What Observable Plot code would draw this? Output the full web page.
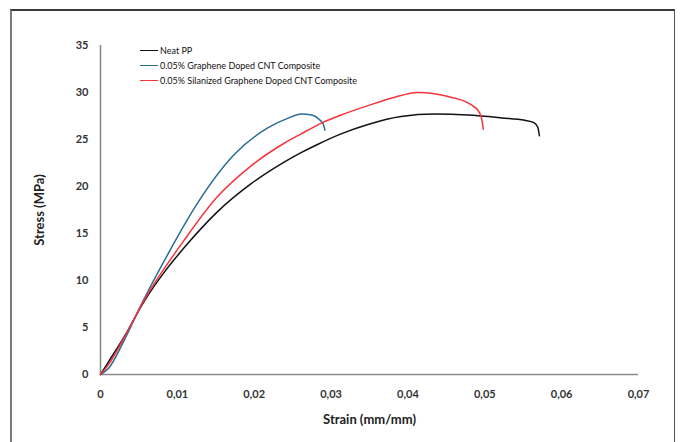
<!DOCTYPE html>
<html>
<head>
<meta charset="utf-8">
<script src="https://cdn.jsdelivr.net/npm/d3@7"></script>
<script src="https://cdn.jsdelivr.net/npm/@observablehq/plot@0.6"></script>
<style>
  html, body { margin: 0; padding: 0; background: #fff; }
  #wrap { position: relative; width: 680px; height: 442px; overflow: hidden; font-family: Lato, "Open Sans", sans-serif; }
  #frame { position: absolute; left: 10px; top: 9px; width: 665px; height: 460px; border-left: 2px solid #7a7a7a; border-top: 2px solid #3a3a3a; border-right: 1px solid #555; box-sizing: border-box; }
  #chart { position: absolute; left: 0; top: 0; }
  #legend { position: absolute; left: 140px; top: 43px; font-size: 9px; color: #111; line-height: 15px; }
  #legend .row { display: flex; align-items: center; white-space: nowrap; }
  #legend .sw { display: inline-block; width: 18px; height: 0; border-top: 1.6px solid; margin-right: 2px; }
</style>
</head>
<body>
<div id="wrap">
  <div id="frame"></div>
  <div id="chart"></div>
  <div id="legend"></div>
</div>
<script>
const seriesNames = ["Neat PP", "0.05% Graphene Doped CNT Composite", "0.05% Silanized Graphene Doped CNT Composite"];
const seriesColors = ["#111111", "#2b6c92", "#f5343c"];

const neatStrain = [0, 0.001, 0.003, 0.0057, 0.0085, 0.0109, 0.0152, 0.0196, 0.0239, 0.0261, 0.0283, 0.0313, 0.0348, 0.0391, 0.0435, 0.0478, 0.0522, 0.0552, 0.0564, 0.0569, 0.0571];
const neatStress = [0, 1.3, 3.9, 7.8, 11.1, 13.5, 17.3, 20.3, 22.6, 23.6, 24.5, 25.6, 26.6, 27.45, 27.7, 27.6, 27.3, 27.05, 26.8, 26.3, 25.4];

const grStrain = [0, 0.001, 0.003, 0.0054, 0.0087, 0.0126, 0.0174, 0.0217, 0.0245, 0.0261, 0.0275, 0.0285, 0.029, 0.0292];
const grStress = [0, 0.6, 3.5, 7.6, 12.7, 18.2, 23.4, 26.2, 27.3, 27.7, 27.6, 27.1, 26.6, 26.0];

const silStrain = [0, 0.001, 0.003, 0.0056, 0.0109, 0.0152, 0.0196, 0.0239, 0.0261, 0.0289, 0.0313, 0.0348, 0.0383, 0.0413, 0.0456, 0.0482, 0.0492, 0.0496, 0.0498];
const silStress = [0, 1.0, 3.8, 7.8, 14.3, 18.9, 22.2, 24.6, 25.6, 26.8, 27.6, 28.6, 29.5, 30.0, 29.5, 28.7, 28.0, 27.2, 26.1];

const xTicks = [0, 0.01, 0.02, 0.03, 0.04, 0.05, 0.06, 0.07];
const yTicks = [0, 5, 10, 15, 20, 25, 30, 35];

const rows = [];
[[neatStrain, neatStress], [grStrain, grStress], [silStrain, silStress]].forEach(([xs, ys], i) => {
  xs.forEach((x, j) => rows.push({series: seriesNames[i], strain: x, stress: ys[j]}));
});

const fmt = d => d === 0 ? "0" : d.toFixed(2).replace(".", ",");

const plot = Plot.plot({
  width: 680,
  height: 442,
  marginLeft: 100,
  marginRight: 42,
  marginTop: 45,
  marginBottom: 68,
  style: {fontFamily: 'Lato, "Open Sans", sans-serif', background: "transparent", overflow: "visible"},
  x: {domain: [0, 0.07]},
  y: {domain: [0, 35]},
  color: {domain: seriesNames, range: seriesColors},
  marks: [
    Plot.axisX({ticks: xTicks, tickFormat: fmt, tickSize: 0, tickPadding: 16, fontSize: 11, fontWeight: "bold", fill: "#333",
      label: "Strain (mm/mm)", labelAnchor: "center", labelArrow: "none", labelOffset: 49}),
    Plot.axisY({ticks: yTicks, tickSize: 0, tickPadding: 12, fontSize: 11, fontWeight: "bold", fill: "#333",
      label: "Stress (MPa)", labelAnchor: "center", labelArrow: "none", labelOffset: 66}),
    Plot.ruleY([0], {stroke: "#8a8a8a", strokeWidth: 1.6}),
    Plot.ruleX([0], {stroke: "#8a8a8a", strokeWidth: 1.6}),
    Plot.line(rows, {x: "strain", y: "stress", z: "series", stroke: "series", strokeWidth: 1.5, curve: "monotone-x"})
  ]
});
d3.select(plot).selectAll("[aria-label='x-axis label'] text, [aria-label='y-axis label'] text")
  .style("font-size", "13px").style("font-weight", "bold").style("fill", "#222");
document.getElementById("chart").appendChild(plot);

const legend = document.getElementById("legend");
seriesNames.forEach((n, i) => {
  const r = document.createElement("div");
  r.className = "row";
  const s = document.createElement("span");
  s.className = "sw";
  s.style.borderColor = seriesColors[i];
  const t = document.createElement("span");
  t.textContent = n;
  r.appendChild(s); r.appendChild(t);
  legend.appendChild(r);
});
</script>
</body>
</html>
